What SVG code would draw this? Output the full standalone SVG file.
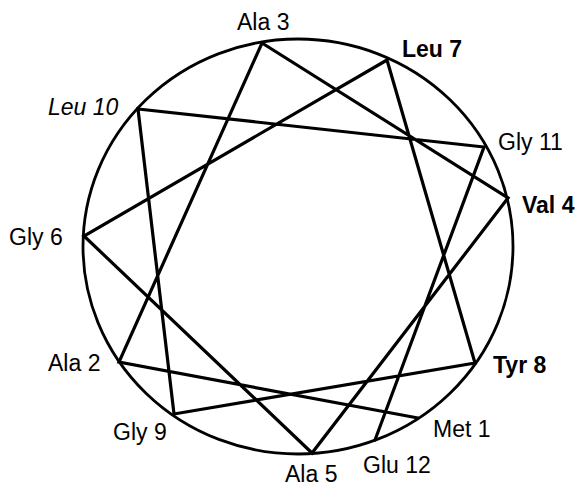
<svg xmlns="http://www.w3.org/2000/svg" width="579" height="487" viewBox="0 0 579 487">
<style>
.lbl{font-family:"Liberation Sans",Arial,sans-serif;font-size:23px;fill:#000}
.b{font-weight:bold}
.i{font-style:italic}
.wheel{fill:none;stroke:#000;stroke-width:2.8}
.edge{fill:none;stroke:#000;stroke-width:3.2;stroke-linejoin:miter;stroke-linecap:round}
</style>
<rect width="579" height="487" fill="#fff"/>
<ellipse class="wheel" cx="298" cy="246.5" rx="215" ry="207.5"/>
<g id="connectors">
<polyline class="edge" points="418,418 119,362 262,43 508,198 312,453 84,236 387,60 475,363 174,414 138,109 484,147 375,440"/>
</g>
<g id="met1"><text class="lbl" x="433" y="437">Met 1</text></g>
<g id="ala2"><text class="lbl" x="48" y="371">Ala 2</text></g>
<g id="ala3"><text class="lbl" x="237" y="30">Ala 3</text></g>
<g id="val4"><text class="lbl b" x="522" y="213">Val 4</text></g>
<g id="ala5"><text class="lbl" x="285" y="482">Ala 5</text></g>
<g id="gly6"><text class="lbl" x="9" y="245">Gly 6</text></g>
<g id="leu7"><text class="lbl b" x="402" y="57">Leu 7</text></g>
<g id="tyr8"><text class="lbl b" x="493" y="373">Tyr 8</text></g>
<g id="gly9"><text class="lbl" x="113" y="440">Gly 9</text></g>
<g id="leu10"><text class="lbl i" x="48" y="115">Leu 10</text></g>
<g id="gly11"><text class="lbl" x="498" y="150">Gly 11</text></g>
<g id="glu12"><text class="lbl" x="363" y="473">Glu 12</text></g>
</svg>
